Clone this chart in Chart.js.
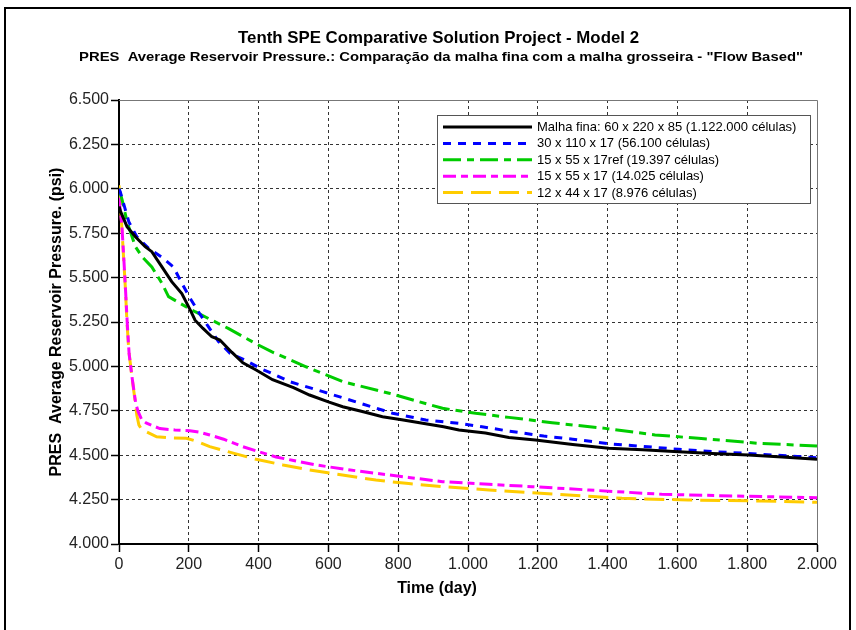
<!DOCTYPE html>
<html>
<head>
<meta charset="utf-8">
<script src="https://cdn.jsdelivr.net/npm/chart.js@4.4.1/dist/chart.umd.min.js"></script>
<style>
  html, body { margin: 0; padding: 0; background: #fff; }
  canvas { display: block; }
</style>
</head>
<body>
<canvas id="chart" width="856" height="630"></canvas>
<script>
// Series names (legend)
const seriesLabels = [
  'Malha fina: 60 x 220 x 85 (1.122.000 células)',
  '30 x 110 x 17 (56.100 células)',
  '15 x 55 x 17ref (19.397 células)',
  '15 x 55 x 17 (14.025 células)',
  '12 x 44 x 17 (8.976 células)'
];

// Fine grid (black)
const fineDays = [0, 5, 23, 47, 75, 94, 123, 151, 180, 204, 218, 240, 266, 289, 323, 355, 393, 440, 500, 546, 600, 641, 700, 755, 810, 870, 930, 974, 1050, 1117, 1193, 1300, 1403, 1500, 1603, 1700, 1803, 1900, 2000];
const finePres = [5900, 5870, 5787, 5730, 5674, 5646, 5560, 5477, 5410, 5318, 5260, 5215, 5167, 5149, 5080, 5020, 4980, 4925, 4880, 4839, 4800, 4773, 4745, 4717, 4700, 4680, 4660, 4642, 4625, 4600, 4586, 4560, 4539, 4530, 4520, 4510, 4501, 4490, 4477];

// 30 x 110 x 17 (blue)
const blueDays = [0, 4, 28, 51, 85, 123, 156, 180, 204, 230, 256, 285, 318, 361, 409, 450, 489, 584, 679, 784, 879, 974, 1040, 1110, 1217, 1300, 1412, 1500, 1603, 1700, 1803, 1900, 2000];
const bluePres = [6000, 5980, 5815, 5730, 5665, 5614, 5560, 5468, 5383, 5300, 5224, 5140, 5074, 5036, 4985, 4950, 4914, 4858, 4800, 4736, 4698, 4680, 4660, 4638, 4608, 4590, 4563, 4550, 4533, 4520, 4510, 4498, 4486];

// 15 x 55 x 17ref (green)
const greenDays = [0, 9, 23, 47, 66, 94, 123, 142, 175, 218, 266, 313, 390, 437, 536, 641, 774, 927, 1022, 1117, 1241, 1393, 1536, 1660, 1831, 2000];
const greenPres = [6000, 5937, 5815, 5674, 5618, 5560, 5468, 5393, 5355, 5308, 5260, 5214, 5130, 5083, 4998, 4914, 4849, 4764, 4736, 4713, 4683, 4651, 4614, 4595, 4567, 4552];

// 15 x 55 x 17 (magenta)
const magentaDays = [0, 8, 14, 19, 24, 29, 38, 48, 55, 65, 79, 117, 160, 203, 230, 260, 300, 355, 400, 450, 500, 565, 650, 736, 830, 927, 1060, 1184, 1346, 1555, 1765, 2000];
const magentaPres = [5950, 5800, 5600, 5420, 5230, 5070, 4930, 4790, 4745, 4700, 4680, 4650, 4642, 4638, 4630, 4614, 4590, 4548, 4520, 4490, 4470, 4445, 4420, 4398, 4375, 4351, 4336, 4323, 4304, 4280, 4270, 4261];

// 12 x 44 x 17 (yellow)
const yellowDays = [0, 7, 13, 18, 23, 28, 37, 47, 51, 57, 65, 108, 150, 193, 220, 260, 330, 393, 470, 546, 640, 736, 830, 927, 1060, 1250, 1441, 1631, 1841, 2000];
const yellowPres = [6020, 5820, 5618, 5450, 5243, 5090, 4942, 4792, 4726, 4670, 4645, 4604, 4597, 4595, 4580, 4548, 4510, 4477, 4445, 4417, 4388, 4360, 4340, 4323, 4304, 4280, 4257, 4248, 4242, 4235];

// Axis ticks and their labels
const xTicks = [0, 200, 400, 600, 800, 1000, 1200, 1400, 1600, 1800, 2000];
const xTickLabels = ['0', '200', '400', '600', '800', '1.000', '1.200', '1.400', '1.600', '1.800', '2.000'];
const yTicks = [4000, 4250, 4500, 4750, 5000, 5250, 5500, 5750, 6000, 6250, 6500];
const yTickLabels = ['4.000', '4.250', '4.500', '4.750', '5.000', '5.250', '5.500', '5.750', '6.000', '6.250', '6.500'];

const FONT = '"Liberation Sans", Arial, Helvetica, sans-serif';

function pts(days, pres) {
  return days.map((d, i) => ({ x: d, y: pres[i] }));
}

function fitText(ctx, text, cx, baseline, width, font) {
  ctx.save();
  ctx.font = font;
  const w = ctx.measureText(text).width;
  ctx.translate(cx, baseline);
  ctx.scale(width / w, 1);
  ctx.textAlign = 'center';
  ctx.textBaseline = 'alphabetic';
  ctx.fillStyle = '#000';
  ctx.fillText(text, 0, 0);
  ctx.restore();
}

// frame, titles, plot box, legend
const decorations = {
  id: 'decorations',
  beforeDraw(chart) {
    const ctx = chart.ctx;
    ctx.save();
    ctx.fillStyle = '#fff';
    ctx.fillRect(0, 0, chart.width, chart.height);
    ctx.restore();
  },
  afterDraw(chart) {
    const ctx = chart.ctx;
    const a = chart.chartArea;

    // outer frame
    ctx.save();
    ctx.strokeStyle = '#000';
    ctx.lineWidth = 2;
    ctx.beginPath();
    ctx.moveTo(5, 630);
    ctx.lineTo(5, 8);
    ctx.lineTo(850, 8);
    ctx.lineTo(850, 630);
    ctx.stroke();
    ctx.restore();

    // titles
    fitText(ctx, 'Tenth SPE Comparative Solution Project - Model 2', 438.5, 43, 401, 'bold 17px ' + FONT);
    fitText(ctx, 'PRES  Average Reservoir Pressure.: Comparação da malha fina com a malha grosseira - "Flow Based"', 441, 61, 724, 'bold 13px ' + FONT);

    // x axis title
    ctx.save();
    ctx.font = 'bold 16px ' + FONT;
    ctx.fillStyle = '#000';
    ctx.textAlign = 'center';
    ctx.textBaseline = 'middle';
    ctx.fillText('Time (day)', 437, 589);
    ctx.restore();

    // top and right plot border
    ctx.save();
    ctx.strokeStyle = '#777';
    ctx.lineWidth = 1;
    ctx.beginPath();
    ctx.moveTo(a.left, a.top + 0.5);
    ctx.lineTo(a.right + 0.5, a.top + 0.5);
    ctx.lineTo(a.right + 0.5, a.bottom);
    ctx.stroke();
    ctx.restore();

    // legend box
    const bx = 437.5, by = 115.5, bw = 373, bh = 88;
    ctx.save();
    ctx.fillStyle = '#fff';
    ctx.fillRect(bx, by, bw, bh);
    ctx.strokeStyle = '#555';
    ctx.lineWidth = 1;
    ctx.strokeRect(bx, by, bw, bh);
    ctx.font = '13px ' + FONT;
    ctx.textAlign = 'left';
    ctx.textBaseline = 'middle';
    chart.data.datasets.forEach((ds, i) => {
      const y = 127 + i * 16.4;
      ctx.save();
      ctx.strokeStyle = ds.borderColor;
      ctx.lineWidth = 3;
      ctx.setLineDash(ds.borderDash || []);
      ctx.beginPath();
      ctx.moveTo(443, y);
      ctx.lineTo(532, y);
      ctx.stroke();
      ctx.restore();
      ctx.fillStyle = '#000';
      ctx.fillText(ds.label, 537, y + 0.5);
    });
    ctx.restore();
  }
};

const lineStyle = { borderWidth: 3, pointRadius: 0, tension: 0, fill: false };

new Chart(document.getElementById('chart'), {
  type: 'line',
  data: {
    datasets: [
      { label: seriesLabels[0], data: pts(fineDays, finePres), borderColor: '#000000', borderDash: [], ...lineStyle },
      { label: seriesLabels[1], data: pts(blueDays, bluePres), borderColor: '#0000ff', borderDash: [8, 7], ...lineStyle },
      { label: seriesLabels[2], data: pts(greenDays, greenPres), borderColor: '#00cc00', borderDash: [18, 6, 7, 6], ...lineStyle },
      { label: seriesLabels[3], data: pts(magentaDays, magentaPres), borderColor: '#ff00ff', borderDash: [13, 5, 7, 5], ...lineStyle },
      { label: seriesLabels[4], data: pts(yellowDays, yellowPres), borderColor: '#ffcc00', borderDash: [20, 8], ...lineStyle }
    ]
  },
  options: {
    responsive: false,
    animation: false,
    devicePixelRatio: 1,
    layout: { padding: { top: 100, right: 39, left: 0, bottom: 0 } },
    plugins: {
      legend: { display: false },
      title: { display: false },
      tooltip: { enabled: false }
    },
    scales: {
      x: {
        type: 'linear',
        min: 0,
        max: 2000,
        afterFit(scale) { scale.height = 86; },
        afterBuildTicks(scale) { scale.ticks = xTicks.map(v => ({ value: v })); },
        ticks: {
          padding: 3,
          color: '#222',
          font: { family: FONT, size: 16 },
          maxRotation: 0,
          callback: (v) => xTickLabels[xTicks.indexOf(v)]
        },
        grid: {
          color: (c) => (c.tick && c.tick.value === 0) || (c.tick && c.tick.value === 2000) ? 'transparent' : '#333',
          lineWidth: 1,
          tickColor: '#000',
          tickWidth: 1.5,
          tickLength: 8
        },
        border: { color: '#000', width: 2, dash: [3, 3] }
      },
      y: {
        min: 4000,
        max: 6500,
        afterFit(scale) { scale.width = 119; },
        afterBuildTicks(scale) { scale.ticks = yTicks.map(v => ({ value: v })); },
        ticks: {
          padding: 2,
          color: '#222',
          font: { family: FONT, size: 16 },
          callback: (v) => yTickLabels[yTicks.indexOf(v)]
        },
        grid: {
          color: (c) => (c.tick && c.tick.value === 4000) || (c.tick && c.tick.value === 6500) ? 'transparent' : '#333',
          lineWidth: 1,
          tickColor: '#000',
          tickWidth: 1.5,
          tickLength: 8
        },
        border: { color: '#000', width: 2, dash: [3, 3] },
        title: {
          display: true,
          text: 'PRES  Average Reservoir Pressure. (psi)',
          color: '#000',
          font: { family: FONT, size: 16, weight: 'bold' },
          padding: { top: 47, bottom: 0 }
        }
      }
    }
  },
  plugins: [decorations]
});
</script>
</body>
</html>
